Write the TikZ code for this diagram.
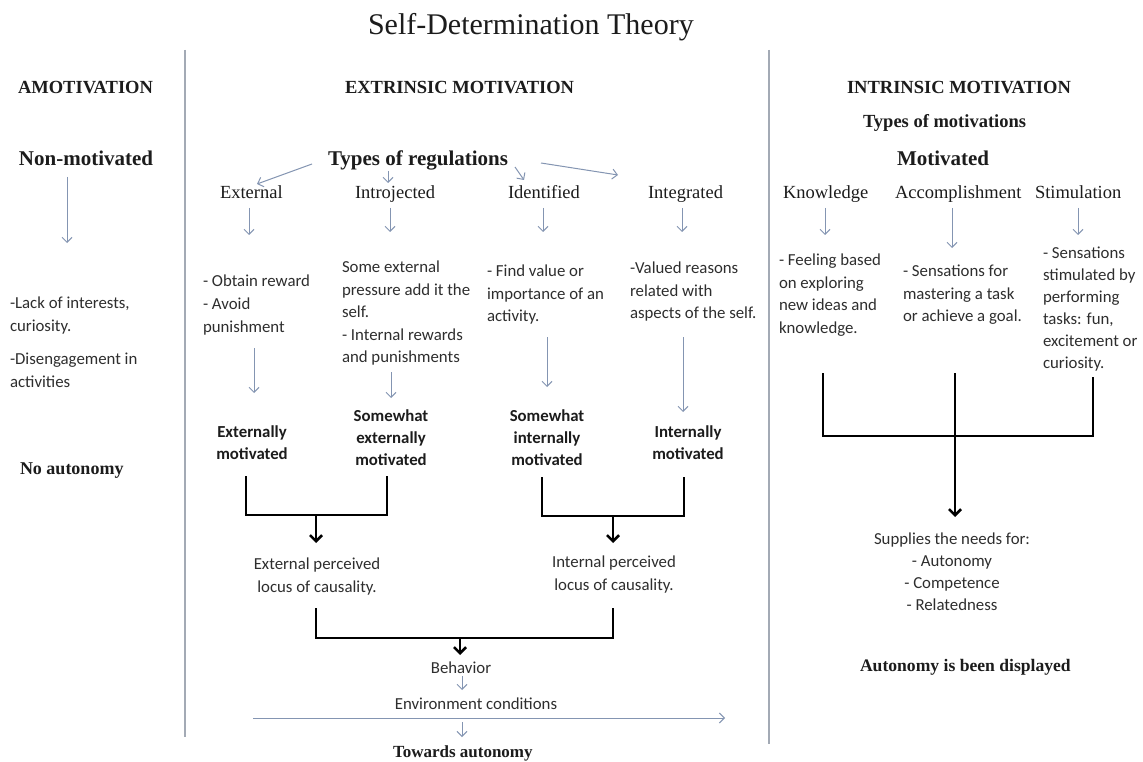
\documentclass[tikz,border=0pt]{standalone}
\usepackage{fontspec}
\setmainfont{Liberation Serif}
\newfontfamily\calib{Carlito}
\usetikzlibrary{arrows.meta}
\definecolor{ink}{HTML}{1C1C1C}
\definecolor{soft}{HTML}{2E2E2E}
\definecolor{flow}{HTML}{8495B2}
\definecolor{rule}{HTML}{A3AAB5}
\tikzset{
  x=1pt, y=-1pt,
  every node/.style={text=ink, inner sep=0pt, outer sep=0pt},
  titletext/.style={font=\fontsize{30}{34}\selectfont, anchor=base west},
  head/.style={font=\bfseries\fontsize{18.5}{22}\selectfont, anchor=base west},
  big/.style={font=\bfseries\fontsize{21}{25}\selectfont, anchor=base west},
  kind/.style={font=\fontsize{18.5}{22}\selectfont, anchor=base west},
  note/.style={font=\calib\fontsize{16.8}{22.4}\selectfont, text=soft, align=left,
               anchor=north west, execute at begin node=\strut},
  notec/.style={font=\calib\fontsize{16.8}{22.6}\selectfont, text=soft, align=center,
                anchor=north, execute at begin node=\strut},
  strong/.style={font=\calib\bfseries\fontsize{16.8}{22}\selectfont, align=center,
                 anchor=north, execute at begin node=\strut},
  lt/.style={draw=flow, line width=1pt, -{Straight Barb[length=5pt,width=10pt]}},
  bracket/.style={draw=black, line width=2.6pt, line join=miter},
  dark/.style={draw=black, line width=2.6pt, -{Straight Barb[length=6pt,width=12pt,line width=2.6pt]}},
  sep/.style={draw=rule, line width=1.6pt},
}
\begin{document}
\begin{tikzpicture}
\useasboundingbox[fill=white] (0,0) rectangle (1143,762);

% title and column separators
\node[titletext] (title) at (368,35) {Self-Determination Theory};
\draw[sep] (185,50) -- (185,737);
\draw[sep] (769,50) -- (769,744);

% ---------- amotivation ----------
\node[head] (amot) at (18,94) {AMOTIVATION};
\node[big] (nonmot) at (19,166) {Non-motivated};
\coordinate (nm1) at (67,177); \coordinate (nm2) at (67,243);
\draw[lt] (nm1) -- (nm2);
\node[note] (lack) at (10,297.3) {-Lack of interests,\\curiosity.};
\node[note] (diseng) at (10,353.3) {-Disengagement in\\activities};
\node[head, font=\bfseries\fontsize{18}{22}\selectfont] (noauto) at (20,474) {No autonomy};

% ---------- extrinsic motivation ----------
\node[head] (extr) at (345,94) {EXTRINSIC MOTIVATION};
\node[big] (types) at (328,166) {Types of regulations};

\node[kind] (lExt) at (220,199) {External};
\node[kind] (lIntro) at (355,199) {Introjected};
\node[kind] (lIdent) at (508,199) {Identified};
\node[kind] (lInteg) at (648,199) {Integrated};

\coordinate (t1) at (312,164); \coordinate (t1e) at (257,184);
\coordinate (t2) at (388,171); \coordinate (t2e) at (388,183);
\coordinate (t3) at (515,167); \coordinate (t3e) at (524,180);
\coordinate (t4) at (541,163); \coordinate (t4e) at (618,175);
\draw[lt] (t1) -- (t1e);
\draw[lt] (t2) -- (t2e);
\draw[lt] (t3) -- (t3e);
\draw[lt] (t4) -- (t4e);

% label -> description arrows
\foreach \n/\x/\b in {a/249/235, b/390/232, c/543/232, d/682/232}{
  \coordinate (d\n1) at (\x,208); \coordinate (d\n2) at (\x,\b);
  \draw[lt] (d\n1) -- (d\n2);
}

\node[note, font=\calib\fontsize{16.8}{23}\selectfont] (dExt) at (203,275.3) {- Obtain reward\\- Avoid\\punishment};
\node[note] (dIntro) at (342,261.3) {Some external\\pressure add it the\\self.\\- Internal rewards\\and punishments};
\node[note] (dIdent) at (487,265.3) {- Find value or\\importance of an\\activity.};
\node[note] (dInteg) at (630,262.3) {-Valued reasons\\related with\\aspects of the self.};

% description -> degree arrows
\foreach \n/\x/\a/\b in {a/254/348/393, b/391/372/398, c/547/337/387, d/683/337/412}{
  \coordinate (e\n1) at (\x,\a); \coordinate (e\n2) at (\x,\b);
  \draw[lt] (e\n1) -- (e\n2);
}

\node[strong] (mExt) at (252,425.6) {Externally\\motivated};
\node[strong] (mSwExt) at (391,409.6) {Somewhat\\externally\\motivated};
\node[strong] (mSwInt) at (547,409.6) {Somewhat\\internally\\motivated};
\node[strong] (mInt) at (688,425.6) {Internally\\motivated};

% external pair
\coordinate (bl1) at (246,476); \coordinate (bl2) at (387,476);
\coordinate (blm) at (316,515); \coordinate (blt) at (316,543);
\draw[bracket] (bl1) -- (246,515) -- (387,515) -- (bl2);
\draw[dark] (blm) -- (blt);
% internal pair
\coordinate (br1) at (542,477); \coordinate (br2) at (684,477);
\coordinate (brm) at (613,516); \coordinate (brt) at (613,543);
\draw[bracket] (br1) -- (542,516) -- (684,516) -- (br2);
\draw[dark] (brm) -- (brt);

\node[notec, font=\calib\fontsize{16.8}{23}\selectfont] (locE) at (317,558.3) {External perceived\\locus of causality.};
\node[notec, font=\calib\fontsize{16.8}{22.4}\selectfont] (locI) at (614,556.3) {Internal perceived\\locus of causality.};

% both loci -> behaviour
\coordinate (bb1) at (316,608); \coordinate (bb2) at (613,608);
\coordinate (bbm) at (460,638); \coordinate (bbt) at (460,655);
\draw[bracket] (bb1) -- (316,638) -- (613,638) -- (bb2);
\draw[dark] (bbm) -- (bbt);

\node[font=\calib\fontsize{16.8}{20}\selectfont, text=soft, anchor=base] (behav) at (461,673) {Behavior};
\node[font=\calib\fontsize{16.8}{20}\selectfont, text=soft, anchor=base] (envir) at (476,709) {Environment conditions};
\coordinate (be1) at (462,676); \coordinate (be2) at (462,690);
\draw[lt] (be1) -- (be2);
\coordinate (h1) at (253,718); \coordinate (h2) at (725,718);
\draw[lt] (h1) -- (h2);
\coordinate (et1) at (462,722); \coordinate (et2) at (462,737);
\draw[lt] (et1) -- (et2);
\node[head, font=\bfseries\fontsize{17}{20}\selectfont] (toward) at (393,757) {Towards autonomy};

% ---------- intrinsic motivation ----------
\node[head] (intr) at (847,94) {INTRINSIC MOTIVATION};
\node[head] (typesm) at (863,128) {Types of motivations};
\node[big] (motiv) at (897,166) {Motivated};

\node[kind] (kKnow) at (783,199) {Knowledge};
\node[kind] (kAcc) at (895,199) {Accomplishment};
\node[kind] (kStim) at (1035,199) {Stimulation};
\foreach \n/\x/\b in {a/825/235, b/952/248, c/1078/235}{
  \coordinate (k\n1) at (\x,208); \coordinate (k\n2) at (\x,\b);
  \draw[lt] (k\n1) -- (k\n2);
}

\node[note] (dKnow) at (779,254.3) {- Feeling based\\on exploring\\new ideas and\\knowledge.};
\node[note] (dAcc) at (903,265.3) {- Sensations for\\mastering a task\\or achieve a goal.};
\node[note, font=\calib\fontsize{16.8}{22}\selectfont] (dStim) at (1043,247.3) {- Sensations\\stimulated by\\performing\\tasks: fun,\\excitement or\\curiosity.};

\coordinate (ib1) at (823,373); \coordinate (ib3) at (1093,377);
\coordinate (ibm) at (955,373); \coordinate (ibt) at (955,517);
\draw[bracket] (ib1) -- (823,436) -- (1093,436) -- (ib3);
\draw[dark] (ibm) -- (ibt);

\node[notec, font=\calib\fontsize{16.8}{22}\selectfont] (needs) at (952,533.3) {Supplies the needs for:\\- Autonomy\\- Competence\\- Relatedness};
\node[head, font=\bfseries\fontsize{17.6}{21}\selectfont] (shown) at (860,671) {Autonomy is been displayed};
\end{tikzpicture}
\end{document}
